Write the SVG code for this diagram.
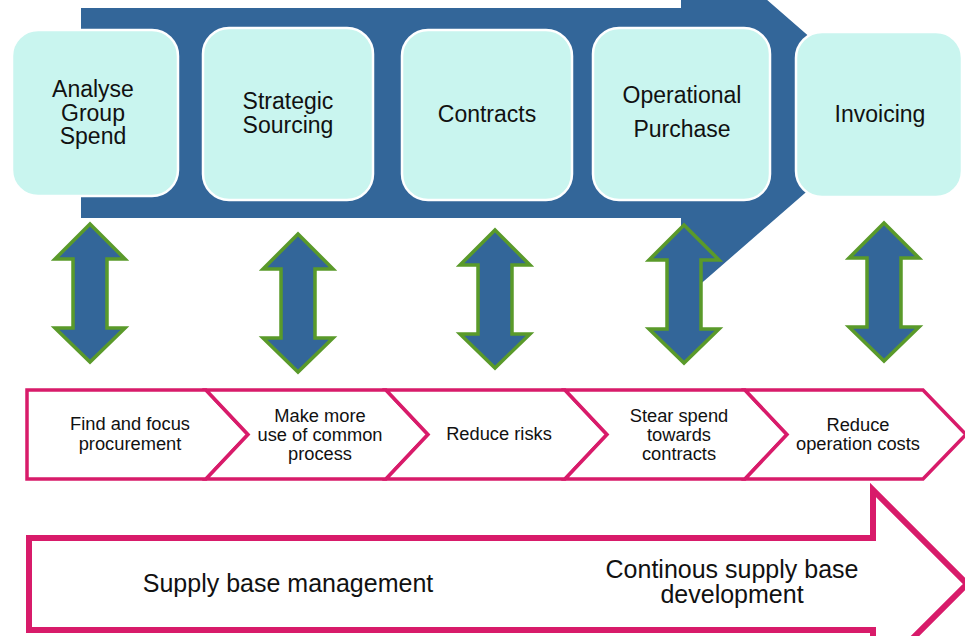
<svg xmlns="http://www.w3.org/2000/svg" width="965" height="636" viewBox="0 0 965 636">
<defs>
<style>
.box{fill:#C9F5EF;stroke:#ffffff;stroke-width:2.5}
.t1{font-family:"Liberation Sans",Arial,sans-serif;font-size:23px;fill:#111;text-anchor:middle}
.t2{font-family:"Liberation Sans",Arial,sans-serif;font-size:18.3px;fill:#111;text-anchor:middle}
.t3{font-family:"Liberation Sans",Arial,sans-serif;font-size:25px;fill:#111;text-anchor:middle}
.dbl{fill:#336699;stroke:#5A9A2A;stroke-width:3.5;stroke-linejoin:miter}
.chev{fill:#ffffff;stroke:#D81B6A;stroke-width:3.5;stroke-linejoin:miter}
.big{fill:#ffffff;stroke:#D81B6A;stroke-width:6;stroke-linejoin:miter}
</style>
<path id="darrow" d="M0,0 L35,35 L17,35 L17,104 L35,104 L0,138 L-35,104 L-17,104 L-17,35 L-35,35 Z"/>
</defs>
<rect width="965" height="636" fill="#ffffff"/>
<g id="process-arrow">
<polygon points="81,8 681,8 681,-75 897,113 681,301 681,218 81,218" fill="#336699"/>
</g>
<g id="connectors">
<use href="#darrow" class="dbl" transform="translate(90,224)"/>
<use href="#darrow" class="dbl" transform="translate(298,234)"/>
<use href="#darrow" class="dbl" transform="translate(495,230)"/>
<use href="#darrow" class="dbl" transform="translate(684,225)"/>
<use href="#darrow" class="dbl" transform="translate(884,223)"/>
</g>
<g id="analyse">
<rect class="box" x="12" y="30" width="166" height="166" rx="26"/>
<text class="t1" x="93" y="97">Analyse</text>
<text class="t1" x="93" y="120.5">Group</text>
<text class="t1" x="93" y="144">Spend</text>
</g>
<g id="strategic">
<rect class="box" x="203" y="28" width="170" height="172" rx="26"/>
<text class="t1" x="288" y="109">Strategic</text>
<text class="t1" x="288" y="133">Sourcing</text>
</g>
<g id="contracts">
<rect class="box" x="402" y="30" width="170" height="170" rx="26"/>
<text class="t1" x="487" y="122">Contracts</text>
</g>
<g id="operational">
<rect class="box" x="593" y="28" width="177" height="172" rx="26"/>
<text class="t1" x="682" y="103">Operational</text>
<text class="t1" x="682" y="137">Purchase</text>
</g>
<g id="invoicing">
<rect class="box" x="796" y="32" width="166" height="165" rx="26"/>
<text class="t1" x="880" y="122">Invoicing</text>
</g>
<g id="chev1">
<path class="chev" d="M27,390 L206,390 L248,434.5 L206,479 L27,479 Z"/>
<text class="t2" x="130" y="430">Find and focus</text>
<text class="t2" x="130" y="450">procurement</text>
</g>
<g id="chev2">
<path class="chev" d="M206,390 L386,390 L428,434.5 L386,479 L206,479 L248,434.5 Z"/>
<text class="t2" x="320" y="422">Make more</text>
<text class="t2" x="320" y="441">use of common</text>
<text class="t2" x="320" y="460">process</text>
</g>
<g id="chev3">
<path class="chev" d="M386,390 L565,390 L607,434.5 L565,479 L386,479 L428,434.5 Z"/>
<text class="t2" x="499" y="440">Reduce risks</text>
</g>
<g id="chev4">
<path class="chev" d="M565,390 L745,390 L787,434.5 L745,479 L565,479 L607,434.5 Z"/>
<text class="t2" x="679" y="422">Stear spend</text>
<text class="t2" x="679" y="441">towards</text>
<text class="t2" x="679" y="460">contracts</text>
</g>
<g id="chev5">
<path class="chev" d="M745,390 L923,390 L966,434.5 L923,479 L745,479 L787,434.5 Z"/>
<text class="t2" x="858" y="431">Reduce</text>
<text class="t2" x="858" y="450">operation costs</text>
</g>
<g id="supply-arrow">
<path class="big" d="M29,538 L873,538 L873,490 L967,584 L873,678 L873,630 L29,630 Z"/>
<text class="t3" x="288" y="592">Supply base management</text>
<text class="t3" x="732" y="578">Continous supply base</text>
<text class="t3" x="732" y="603">development</text>
</g>
</svg>
